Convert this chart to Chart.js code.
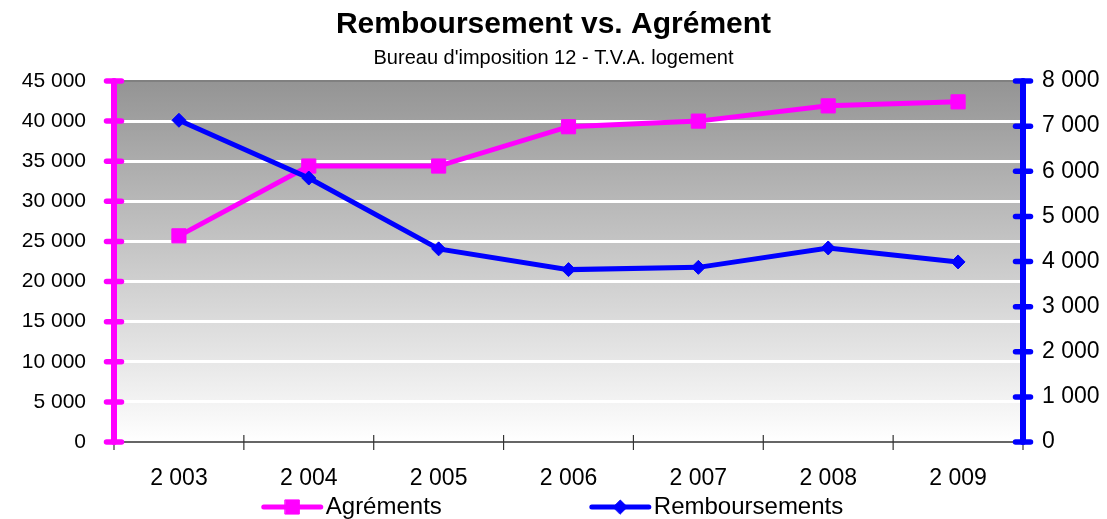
<!DOCTYPE html>
<html>
<head>
<meta charset="utf-8">
<script src="https://cdn.jsdelivr.net/npm/chart.js@4.4.0/dist/chart.umd.min.js"></script>
<style>
  body { margin: 0; background: #fff; }
</style>
</head>
<body>
<canvas id="chart" width="1107" height="519"></canvas>
<script>
// data
const years = [2003, 2004, 2005, 2006, 2007, 2008, 2009];
const agrements = [25700, 34400, 34400, 39300, 40000, 41900, 42400];
const remboursements = [7130, 5850, 4280, 3820, 3870, 4300, 3990];
const leftTicks = [0, 5000, 10000, 15000, 20000, 25000, 30000, 35000, 40000, 45000];
const rightTicks = [0, 1000, 2000, 3000, 4000, 5000, 6000, 7000, 8000];

const FONT = "'Liberation Sans', Arial, sans-serif";

// 45000 -> "45 000"
function fmt(v) {
    return String(v).replace(/\B(?=(\d{3})+(?!\d))/g, ' ');
}

const background = {
    id: 'background',
    beforeDraw(chart) {
        const {ctx, chartArea: a} = chart;
        ctx.save();
        ctx.fillStyle = '#fff';
        ctx.fillRect(0, 0, chart.width, chart.height);
        const g = ctx.createLinearGradient(0, a.top, 0, a.bottom);
        g.addColorStop(0, '#949494');
        g.addColorStop(1, '#ffffff');
        ctx.fillStyle = g;
        ctx.fillRect(a.left, a.top, a.right - a.left, a.bottom - a.top);
        ctx.restore();
    }
};

// axis lines with ticks crossing them, like the excel chart
const axes = {
    id: 'axes',
    beforeDatasetsDraw(chart) {
        const {ctx, chartArea: a, scales} = chart;
        ctx.save();
        const n = scales.x.ticks.length;
        ctx.strokeStyle = '#333';
        ctx.lineWidth = 1.5;
        ctx.beginPath();
        ctx.moveTo(a.left, a.bottom);
        ctx.lineTo(a.right, a.bottom);
        ctx.stroke();
        ctx.lineWidth = 1.2;
        for (let i = 0; i <= n; i++) {
            const px = a.left + i * (a.right - a.left) / n;
            ctx.beginPath();
            ctx.moveTo(px, a.bottom - 7);
            ctx.lineTo(px, a.bottom + 8);
            ctx.stroke();
        }
        [['y', '#ff00ff', a.left], ['y1', '#0000ff', a.right]].forEach(([id, color, px]) => {
            const s = scales[id];
            ctx.strokeStyle = color;
            ctx.lineCap = 'round';
            ctx.lineWidth = 6;
            ctx.beginPath();
            ctx.moveTo(px, s.top);
            ctx.lineTo(px, s.bottom);
            ctx.stroke();
            ctx.lineWidth = 5.5;
            s.ticks.forEach(t => {
                const py = s.getPixelForValue(t.value);
                ctx.beginPath();
                ctx.moveTo(px - 7.5, py);
                ctx.lineTo(px + 7.5, py);
                ctx.stroke();
            });
        });
        ctx.restore();
    }
};

const legend = {
    id: 'customLegend',
    afterDraw(chart) {
        const {ctx} = chart;
        const lineW = 57, gap = 150, py = 507;
        ctx.save();
        ctx.font = '24px ' + FONT;
        const items = chart.data.datasets.map(ds => ({ds, w: lineW + 5 + ctx.measureText(ds.label).width}));
        const total = items.reduce((s, it) => s + it.w, 0) + gap * (items.length - 1);
        let px = (chart.width - total) / 2;
        items.forEach(({ds, w}) => {
            ctx.strokeStyle = ds.borderColor;
            ctx.fillStyle = ds.borderColor;
            ctx.lineWidth = 5;
            ctx.lineCap = 'round';
            ctx.beginPath();
            ctx.moveTo(px, py);
            ctx.lineTo(px + lineW, py);
            ctx.stroke();
            ctx.lineWidth = 1;
            Chart.helpers.drawPoint(ctx, {pointStyle: ds.pointStyle, radius: ds.pointRadius, rotation: 0, borderWidth: 1}, px + lineW / 2, py);
            ctx.fillStyle = '#000';
            ctx.textBaseline = 'middle';
            ctx.textAlign = 'left';
            ctx.fillText(ds.label, px + lineW + 5, py);
            px += w + gap;
        });
        ctx.restore();
    }
};

new Chart(document.getElementById('chart'), {
    type: 'line',
    data: {
        labels: years.map(fmt),
        datasets: [{
            label: 'Agréments',
            data: agrements,
            yAxisID: 'y',
            borderColor: '#ff00ff',
            backgroundColor: '#ff00ff',
            borderWidth: 5,
            pointStyle: 'rect',
            pointRadius: 10,
            pointBorderWidth: 1,
            order: 1
        }, {
            label: 'Remboursements',
            data: remboursements,
            yAxisID: 'y1',
            borderColor: '#0000ff',
            backgroundColor: '#0000ff',
            borderWidth: 5,
            pointStyle: 'rectRot',
            pointRadius: 7,
            pointBorderWidth: 1,
            order: 0
        }]
    },
    options: {
        responsive: false,
        animation: false,
        devicePixelRatio: 1,
        layout: { padding: 0 },
        plugins: {
            legend: { display: false },
            tooltip: { enabled: false },
            title: {
                display: true,
                text: 'Remboursement vs. Agrément',
                color: '#000',
                font: { family: FONT, size: 30, weight: 'bold' },
                padding: { top: 6.5, bottom: 1 }
            },
            subtitle: {
                display: true,
                text: "Bureau d'imposition 12 - T.V.A. logement",
                color: '#000',
                font: { family: FONT, size: 20 },
                padding: { top: 2.5, bottom: 11 }
            }
        },
        scales: {
            x: {
                offset: true,
                grid: { display: false, drawTicks: false },
                border: { display: false },
                ticks: { color: '#000', font: { family: FONT, size: 23 }, padding: 23, maxRotation: 0 },
                afterFit: s => { s.height = 77; }
            },
            y: {
                position: 'left',
                min: leftTicks[0],
                max: leftTicks[leftTicks.length - 1],
                border: { display: false },
                grid: {
                    drawTicks: false,
                    color: c => c.tick.value === leftTicks[leftTicks.length - 1] ? '#808080' : (c.tick.value === 0 ? 'rgba(0,0,0,0)' : '#ffffff'),
                    lineWidth: c => c.tick.value === leftTicks[leftTicks.length - 1] ? 2 : 3
                },
                ticks: {
                    stepSize: leftTicks[1] - leftTicks[0],
                    color: '#000',
                    font: { family: FONT, size: 21 },
                    padding: 28,
                    callback: v => fmt(v)
                },
                afterFit: s => { s.width = 114; }
            },
            y1: {
                position: 'right',
                min: rightTicks[0],
                max: rightTicks[rightTicks.length - 1],
                border: { display: false },
                grid: { drawOnChartArea: false, drawTicks: false },
                ticks: {
                    stepSize: rightTicks[1] - rightTicks[0],
                    color: '#000',
                    font: { family: FONT, size: 23 },
                    padding: 19,
                    callback: v => fmt(v)
                },
                afterFit: s => { s.width = 84; }
            }
        }
    },
    plugins: [background, axes, legend]
});
</script>
</body>
</html>
